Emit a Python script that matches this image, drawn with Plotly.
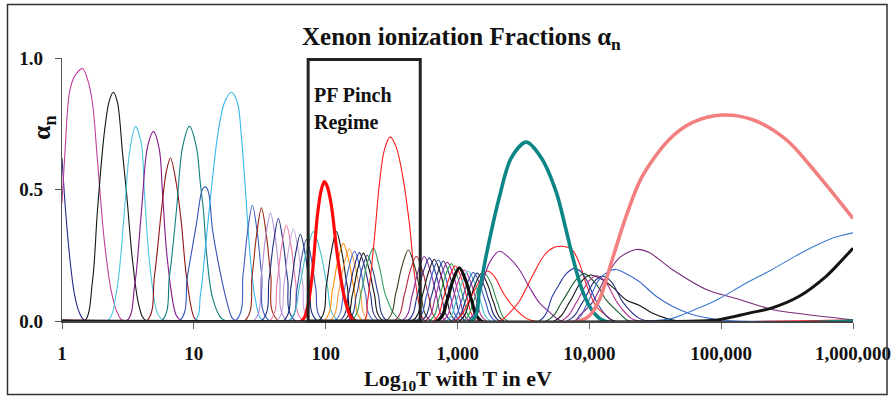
import plotly.graph_objects as go

# ---- Data: log10(T [eV]) positions and ionization fractions alpha_n ----
s00_lg = [0.0, 0.027, 0.057, 0.095, 0.133, 0.178]
s00_a = [0.62, 0.42, 0.25, 0.10, 0.03, 0.0]
s01_lg = [0.0, 0.019, 0.057, 0.095, 0.155, 0.193, 0.231, 0.269, 0.322, 0.375, 0.421, 0.466]
s01_a = [0.45, 0.61, 0.87, 0.93, 0.96, 0.92, 0.83, 0.61, 0.30, 0.11, 0.03, 0.0]
s02_lg = [0.171, 0.231, 0.269, 0.322, 0.360, 0.390, 0.421, 0.459, 0.489, 0.535, 0.588, 0.641]
s02_a = [0.0, 0.15, 0.42, 0.72, 0.84, 0.87, 0.83, 0.64, 0.49, 0.23, 0.05, 0.0]
s03_lg = [0.345, 0.413, 0.474, 0.512, 0.557, 0.603, 0.625, 0.663, 0.724, 0.777]
s03_a = [0.0, 0.11, 0.42, 0.64, 0.74, 0.67, 0.49, 0.23, 0.03, 0.0]
s04_lg = [0.489, 0.550, 0.603, 0.648, 0.694, 0.739, 0.762, 0.800, 0.868, 0.914]
s04_a = [0.0, 0.13, 0.42, 0.66, 0.72, 0.65, 0.49, 0.23, 0.02, 0.0]
s05_lg = [0.641, 0.701, 0.754, 0.792, 0.823, 0.868, 0.906, 0.944, 1.005, 1.042]
s05_a = [0.0, 0.17, 0.42, 0.57, 0.62, 0.52, 0.37, 0.17, 0.01, 0.0]
s06_lg = [0.754, 0.815, 0.868, 0.914, 0.967, 1.020, 1.050, 1.073, 1.096, 1.141, 1.209, 1.255]
s06_a = [0.0, 0.17, 0.42, 0.66, 0.74, 0.66, 0.52, 0.42, 0.26, 0.09, 0.01, 0.0]
s07_lg = [0.891, 0.951, 1.020, 1.065, 1.088, 1.111, 1.141, 1.194, 1.247, 1.293, 1.331]
s07_a = [0.0, 0.17, 0.37, 0.50, 0.51, 0.49, 0.35, 0.20, 0.08, 0.01, 0.0]
s08_lg = [1.005, 1.050, 1.088, 1.133, 1.179, 1.232, 1.285, 1.331, 1.361, 1.391, 1.422, 1.460, 1.505, 1.543]
s08_a = [0.0, 0.10, 0.28, 0.50, 0.70, 0.83, 0.87, 0.83, 0.70, 0.50, 0.28, 0.10, 0.01, 0.0]
s09_lg = [1.315, 1.373, 1.405, 1.444, 1.483, 1.515, 1.573]
s09_a = [0.0, 0.176, 0.33, 0.44, 0.33, 0.176, 0.0]
s10_lg = [1.384, 1.442, 1.474, 1.513, 1.552, 1.584, 1.642]
s10_a = [0.0, 0.172, 0.32, 0.43, 0.32, 0.172, 0.0]
s11_lg = [1.452, 1.510, 1.542, 1.581, 1.620, 1.652, 1.710]
s11_a = [0.0, 0.164, 0.31, 0.41, 0.31, 0.164, 0.0]
s12_lg = [1.512, 1.570, 1.602, 1.641, 1.680, 1.712, 1.770]
s12_a = [0.0, 0.156, 0.29, 0.39, 0.29, 0.156, 0.0]
s13_lg = [1.573, 1.631, 1.663, 1.702, 1.741, 1.773, 1.831]
s13_a = [0.0, 0.146, 0.274, 0.365, 0.274, 0.146, 0.0]
s14_lg = [1.626, 1.684, 1.716, 1.755, 1.794, 1.826, 1.884]
s14_a = [0.0, 0.14, 0.263, 0.35, 0.263, 0.14, 0.0]
s15_lg = [1.679, 1.737, 1.769, 1.808, 1.847, 1.879, 1.937]
s15_a = [0.0, 0.132, 0.248, 0.33, 0.248, 0.132, 0.0]
s16_lg = [1.725, 1.783, 1.815, 1.854, 1.893, 1.925, 1.983]
s16_a = [0.0, 0.124, 0.233, 0.31, 0.233, 0.124, 0.0]
s17_lg = [1.717, 1.803, 1.850, 1.907, 1.964, 2.011, 2.097]
s17_a = [0.0, 0.136, 0.255, 0.34, 0.255, 0.136, 0.0]
s18_lg = [1.816, 1.861, 1.899, 1.937, 1.967, 1.990, 2.013, 2.043, 2.089, 2.142, 2.195, 2.225]
s18_a = [0.0, 0.05, 0.18, 0.40, 0.50, 0.53, 0.51, 0.44, 0.25, 0.09, 0.01, 0.0]
s19_lg = [1.945, 2.005, 2.040, 2.081, 2.125, 2.163, 2.235]
s19_a = [0.0, 0.136, 0.255, 0.34, 0.255, 0.136, 0.0]
s20_lg = [1.984, 2.052, 2.089, 2.134, 2.179, 2.217, 2.284]
s20_a = [0.0, 0.118, 0.221, 0.295, 0.221, 0.118, 0.0]
s21_lg = [2.030, 2.098, 2.135, 2.180, 2.225, 2.263, 2.330]
s21_a = [0.0, 0.11, 0.206, 0.275, 0.206, 0.11, 0.0]
s22_lg = [2.068, 2.136, 2.173, 2.218, 2.263, 2.301, 2.368]
s22_a = [0.0, 0.106, 0.199, 0.265, 0.199, 0.106, 0.0]
s23_lg = [2.106, 2.174, 2.211, 2.256, 2.301, 2.339, 2.406]
s23_a = [0.0, 0.104, 0.195, 0.26, 0.195, 0.104, 0.0]
s24_lg = [2.136, 2.204, 2.241, 2.286, 2.331, 2.369, 2.436]
s24_a = [0.0, 0.103, 0.194, 0.258, 0.194, 0.103, 0.0]
s25_lg = [2.166, 2.234, 2.271, 2.316, 2.361, 2.399, 2.466]
s25_a = [0.0, 0.10, 0.188, 0.25, 0.188, 0.10, 0.0]
s26_lg = [2.19, 2.27, 2.31, 2.362, 2.41, 2.46, 2.58]
s26_a = [0.0, 0.11, 0.21, 0.278, 0.20, 0.09, 0.0]
s27_lg = [2.286, 2.316, 2.369, 2.407, 2.445, 2.490, 2.536, 2.581, 2.635, 2.673, 2.711, 2.756]
s27_a = [0.0, 0.07, 0.31, 0.52, 0.65, 0.70, 0.66, 0.56, 0.37, 0.18, 0.06, 0.0]
s28_lg = [2.457, 2.533, 2.576, 2.627, 2.678, 2.721, 2.797]
s28_a = [0.0, 0.108, 0.203, 0.27, 0.203, 0.108, 0.0]
s29_lg = [2.521, 2.596, 2.638, 2.688, 2.738, 2.780, 2.855]
s29_a = [0.0, 0.098, 0.185, 0.246, 0.185, 0.098, 0.0]
s30_lg = [2.581, 2.656, 2.698, 2.748, 2.798, 2.840, 2.915]
s30_a = [0.0, 0.098, 0.184, 0.245, 0.184, 0.098, 0.0]
s31_lg = [2.619, 2.694, 2.736, 2.786, 2.836, 2.878, 2.953]
s31_a = [0.0, 0.096, 0.18, 0.24, 0.18, 0.096, 0.0]
s32_lg = [2.657, 2.732, 2.774, 2.824, 2.874, 2.916, 2.991]
s32_a = [0.0, 0.094, 0.176, 0.235, 0.176, 0.094, 0.0]
s33_lg = [2.688, 2.763, 2.805, 2.855, 2.905, 2.947, 3.022]
s33_a = [0.0, 0.093, 0.174, 0.232, 0.174, 0.093, 0.0]
s34_lg = [2.725, 2.800, 2.842, 2.892, 2.942, 2.984, 3.059]
s34_a = [0.0, 0.091, 0.171, 0.228, 0.171, 0.091, 0.0]
s35_lg = [2.756, 2.831, 2.873, 2.923, 2.973, 3.015, 3.090]
s35_a = [0.0, 0.09, 0.168, 0.224, 0.168, 0.09, 0.0]
s36_lg = [2.786, 2.861, 2.903, 2.953, 3.003, 3.045, 3.120]
s36_a = [0.0, 0.087, 0.164, 0.218, 0.164, 0.087, 0.0]
s37_lg = [2.816, 2.891, 2.933, 2.983, 3.033, 3.075, 3.150]
s37_a = [0.0, 0.084, 0.158, 0.21, 0.158, 0.084, 0.0]
s38_lg = [2.847, 2.922, 2.964, 3.014, 3.064, 3.106, 3.181]
s38_a = [0.0, 0.081, 0.152, 0.202, 0.152, 0.081, 0.0]
s39_lg = [2.885, 2.960, 3.002, 3.052, 3.102, 3.144, 3.219]
s39_a = [0.0, 0.078, 0.146, 0.195, 0.146, 0.078, 0.0]
s40_lg = [2.915, 2.990, 3.032, 3.082, 3.132, 3.174, 3.249]
s40_a = [0.0, 0.076, 0.143, 0.19, 0.143, 0.076, 0.0]
s41_lg = [2.953, 3.028, 3.070, 3.120, 3.170, 3.212, 3.287]
s41_a = [0.0, 0.074, 0.139, 0.185, 0.139, 0.074, 0.0]
s42_lg = [2.983, 3.058, 3.100, 3.150, 3.200, 3.242, 3.317]
s42_a = [0.0, 0.073, 0.137, 0.182, 0.137, 0.073, 0.0]
s43_lg = [3.014, 3.089, 3.131, 3.181, 3.231, 3.273, 3.348]
s43_a = [0.0, 0.072, 0.135, 0.18, 0.135, 0.072, 0.0]
s44_lg = [3.044, 3.119, 3.161, 3.211, 3.261, 3.303, 3.378]
s44_a = [0.0, 0.071, 0.134, 0.178, 0.134, 0.071, 0.0]
s45_lg = [2.976, 3.090, 3.165, 3.226, 3.279, 3.355, 3.431, 3.522, 3.583]
s45_a = [0.0, 0.08, 0.15, 0.19, 0.17, 0.10, 0.05, 0.01, 0.0]
s46_lg = [3.105, 3.165, 3.218, 3.317, 3.408, 3.522, 3.636, 3.749, 3.817, 3.870, 3.924, 3.977, 4.037, 4.113]
s46_a = [0.0, 0.11, 0.25, 0.47, 0.62, 0.68, 0.62, 0.49, 0.36, 0.25, 0.15, 0.08, 0.03, 0.0]
s47_lg = [3.074, 3.165, 3.241, 3.317, 3.393, 3.469, 3.544, 3.620, 3.696, 3.787]
s47_a = [0.0, 0.10, 0.22, 0.265, 0.24, 0.196, 0.13, 0.07, 0.035, 0.0]
s48_lg = [3.317, 3.393, 3.469, 3.567, 3.658, 3.734, 3.795, 3.871, 3.924, 3.984, 4.052, 4.128, 4.189]
s48_a = [0.0, 0.03, 0.075, 0.17, 0.25, 0.28, 0.284, 0.27, 0.22, 0.13, 0.056, 0.02, 0.0]
s49_lg = [3.620, 3.719, 3.772, 3.825, 3.886, 3.931, 3.977, 4.052, 4.128, 4.189]
s49_a = [0.0, 0.094, 0.14, 0.18, 0.20, 0.19, 0.158, 0.075, 0.02, 0.0]
s50_lg = [3.674, 3.795, 3.901, 3.962, 4.052, 4.128, 4.227, 4.303]
s50_a = [0.0, 0.075, 0.158, 0.18, 0.14, 0.08, 0.03, 0.0]
s51_lg = [3.734, 3.848, 3.939, 4.007, 4.090, 4.174, 4.280, 4.378, 4.477, 4.583, 4.682]
s51_a = [0.0, 0.07, 0.15, 0.175, 0.16, 0.13, 0.08, 0.06, 0.03, 0.01, 0.0]
s52_lg = [3.787, 3.901, 3.992, 4.052, 4.121, 4.212, 4.318, 4.378]
s52_a = [0.0, 0.07, 0.15, 0.172, 0.15, 0.07, 0.01, 0.0]
s53_lg = [3.833, 3.947, 4.037, 4.098, 4.166, 4.257, 4.378, 4.454]
s53_a = [0.0, 0.07, 0.15, 0.17, 0.15, 0.07, 0.01, 0.0]
s54_lg = [3.893, 3.977, 4.075, 4.151, 4.204, 4.280, 4.378, 4.507, 4.629, 4.780, 4.985, 5.137]
s54_a = [0.0, 0.06, 0.158, 0.19, 0.196, 0.18, 0.15, 0.094, 0.056, 0.025, 0.005, 0.0]
s55_lg = [3.886, 3.924, 4.022, 4.128, 4.227, 4.356, 4.454, 4.629, 4.887, 5.137, 5.387, 5.645, 6.0]
s55_a = [0.0, 0.02, 0.07, 0.17, 0.24, 0.272, 0.26, 0.196, 0.12, 0.082, 0.044, 0.025, 0.005]
s56_lg = [3.924, 4.000, 4.075, 4.174, 4.280, 4.401, 4.606, 4.780, 5.008, 5.235, 5.493, 5.743, 6.0]
s56_a = [0.0, 0.02, 0.08, 0.234, 0.40, 0.55, 0.69, 0.754, 0.783, 0.766, 0.69, 0.55, 0.39]
s57_lg = [4.454, 4.629, 4.833, 4.985, 5.175, 5.387, 5.539, 5.690, 5.842, 6.0]
s57_a = [0.0, 0.01, 0.05, 0.085, 0.14, 0.196, 0.24, 0.28, 0.315, 0.335]
s58_lg = [4.833, 4.985, 5.213, 5.387, 5.592, 5.796, 5.895, 6.0]
s58_a = [0.0, 0.005, 0.03, 0.05, 0.094, 0.17, 0.22, 0.277]

x_tick_values = [1, 10, 100, 1000, 10000, 100000, 1000000]
x_tick_labels = ["1", "10", "100", "1,000", "10,000", "100,000", "1,000,000"]
y_tick_values = [0.0, 0.5, 1.0]
y_tick_labels = ["0.0", "0.5", "1.0"]

series = [
    (s00_lg, s00_a), (s01_lg, s01_a), (s02_lg, s02_a), (s03_lg, s03_a), (s04_lg, s04_a),
    (s05_lg, s05_a), (s06_lg, s06_a), (s07_lg, s07_a), (s08_lg, s08_a), (s09_lg, s09_a),
    (s10_lg, s10_a), (s11_lg, s11_a), (s12_lg, s12_a), (s13_lg, s13_a), (s14_lg, s14_a),
    (s15_lg, s15_a), (s16_lg, s16_a), (s17_lg, s17_a), (s18_lg, s18_a), (s19_lg, s19_a),
    (s20_lg, s20_a), (s21_lg, s21_a), (s22_lg, s22_a), (s23_lg, s23_a), (s24_lg, s24_a),
    (s25_lg, s25_a), (s26_lg, s26_a), (s27_lg, s27_a), (s28_lg, s28_a), (s29_lg, s29_a),
    (s30_lg, s30_a), (s31_lg, s31_a), (s32_lg, s32_a), (s33_lg, s33_a), (s34_lg, s34_a),
    (s35_lg, s35_a), (s36_lg, s36_a), (s37_lg, s37_a), (s38_lg, s38_a), (s39_lg, s39_a),
    (s40_lg, s40_a), (s41_lg, s41_a), (s42_lg, s42_a), (s43_lg, s43_a), (s44_lg, s44_a),
    (s45_lg, s45_a), (s46_lg, s46_a), (s47_lg, s47_a), (s48_lg, s48_a), (s49_lg, s49_a),
    (s50_lg, s50_a), (s51_lg, s51_a), (s52_lg, s52_a), (s53_lg, s53_a), (s54_lg, s54_a),
    (s55_lg, s55_a), (s56_lg, s56_a), (s57_lg, s57_a), (s58_lg, s58_a),
]

# ---- Styles (colour, width) per series ----
styles = [
    ("#262a8a", 1.1), ("#c2409e", 1.1), ("#151515", 1.1), ("#4cc4e0", 1.1), ("#86188a", 1.1),
    ("#8e1414", 1.1), ("#0f7f7c", 1.1), ("#3553b5", 1.1), ("#36b8ee", 1.1), ("#3a5cbf", 1.1),
    ("#9b2410", 1.1), ("#b58ed2", 1.1), ("#1f2f80", 1.1), ("#f07aa8", 1.1), ("#c8a2dc", 1.1),
    ("#1c2a78", 1.1), ("#3a50b0", 1.1), ("#40c0c8", 1.1), ("#ff0a0a", 3.2), ("#151515", 1.1),
    ("#ff8c00", 1.1), ("#f5a040", 1.1), ("#4a6ad0", 1.1), ("#2a2a80", 1.1), ("#151515", 1.1),
    ("#304090", 1.1), ("#2e9e5e", 1.1), ("#ff1a1a", 1.1), ("#3a3a1a", 1.1), ("#b0203a", 1.1),
    ("#8a2a9a", 1.1), ("#283088", 1.1), ("#151515", 1.1), ("#3a5cc8", 1.1), ("#22307a", 1.1),
    ("#a02a9a", 1.1), ("#2e9e4e", 1.1), ("#ff2020", 1.1), ("#101010", 3.2), ("#c0309a", 1.1),
    ("#40c0d0", 1.1), ("#3a5cc8", 1.1), ("#22307a", 1.1), ("#151515", 1.1), ("#2e8e4e", 1.1),
    ("#ff2020", 1.1), ("#0b8585", 3.6), ("#8a2a9a", 1.1), ("#ff1a1a", 1.1), ("#2a3aa0", 1.1),
    ("#1a5a2a", 1.1), ("#151515", 1.1), ("#b03090", 1.1), ("#2a3080", 1.1), ("#3a6ad0", 1.1),
    ("#7a2a7a", 1.1), ("#f28080", 3.6), ("#3a7ad0", 1.1), ("#151515", 3.0),
]

fig = go.Figure()
order = [i for i in range(len(series)) if styles[i][1] < 2] + \
        [i for i in range(len(series)) if styles[i][1] >= 2]
for i in order:
    lg, a = series[i]
    xs = list(lg)
    ys = list(a)
    if xs[0] > 0:
        xs = [0.0] + xs
        ys = [0.0] + ys
    if xs[-1] < 6:
        xs = xs + [6.0]
        ys = ys + [0.0]
    col, w = styles[i]
    fig.add_trace(go.Scatter(
        x=[10 ** v for v in xs], y=ys, mode="lines",
        line=dict(color=col, width=w, shape="spline", smoothing=0.9),
        hoverinfo="skip", showlegend=False,
    ))

font_family = "Liberation Serif, Times New Roman, serif"

fig.update_layout(
    width=896, height=398,
    margin=dict(l=62, r=43, t=58, b=77, autoexpand=False),
    paper_bgcolor="white", plot_bgcolor="white",
    font=dict(family=font_family, color="#111111"),
    showlegend=False,
    xaxis=dict(
        type="log", range=[0, 6], showgrid=False, zeroline=False, automargin=False,
        showline=True, linecolor="#444444", linewidth=1.5,
        ticks="outside", ticklen=6, tickcolor="#666666", tickwidth=1,
        tickvals=x_tick_values, ticktext=["<b>%s</b>" % t for t in x_tick_labels],
        tickfont=dict(size=19, family=font_family, color="#111111"),
        ticklabelstandoff=8,
    ),
    yaxis=dict(
        range=[0, 1], showgrid=False, zeroline=False, automargin=False,
        showline=True, linecolor="#555555", linewidth=1.2,
        ticks="outside", ticklen=6, tickcolor="#555555",
        tickvals=y_tick_values, ticktext=["<b>%s</b>" % t for t in y_tick_labels],
        tickfont=dict(size=19, family=font_family, color="#111111"),
        ticklabelstandoff=8,
    ),
    shapes=[
        dict(type="rect", xref="paper", yref="paper",
             x0=-0.0689, x1=1.043, y0=-0.2795, y1=1.2034,
             line=dict(color="#333333", width=1.5)),
        dict(type="rect", xref="paper", yref="paper",
             x0=0.3112, x1=0.4529, y0=0.0, y1=0.994,
             line=dict(color="#222222", width=3)),
    ],
    annotations=[
        dict(text="<b>Xenon ionization Fractions α<sub>n</sub></b>", xref="paper", yref="paper",
             x=0.505, y=1.075, xanchor="center", yanchor="middle", showarrow=False,
             font=dict(size=25, family=font_family, color="#111111")),
        dict(text="<b>α<sub>n</sub></b>", xref="paper", yref="paper",
             x=-0.0234, y=0.736, xanchor="center", yanchor="middle", showarrow=False,
             textangle=-90, font=dict(size=26, family=font_family, color="#111111")),
        dict(text="<b>Log<sub>10</sub>T with T in eV</b>", xref="paper", yref="paper",
             x=0.5003, y=-0.225, xanchor="center", yanchor="middle", showarrow=False,
             font=dict(size=22, family=font_family, color="#111111")),
        dict(text="<b>PF Pinch</b>", xref="paper", yref="paper",
             x=0.316, y=0.859, xanchor="left", yanchor="middle", showarrow=False,
             font=dict(size=20, family=font_family, color="#111111")),
        dict(text="<b>Regime</b>", xref="paper", yref="paper",
             x=0.316, y=0.753, xanchor="left", yanchor="middle", showarrow=False,
             font=dict(size=20, family=font_family, color="#111111")),
    ],
)

fig.write_html("out.html")
